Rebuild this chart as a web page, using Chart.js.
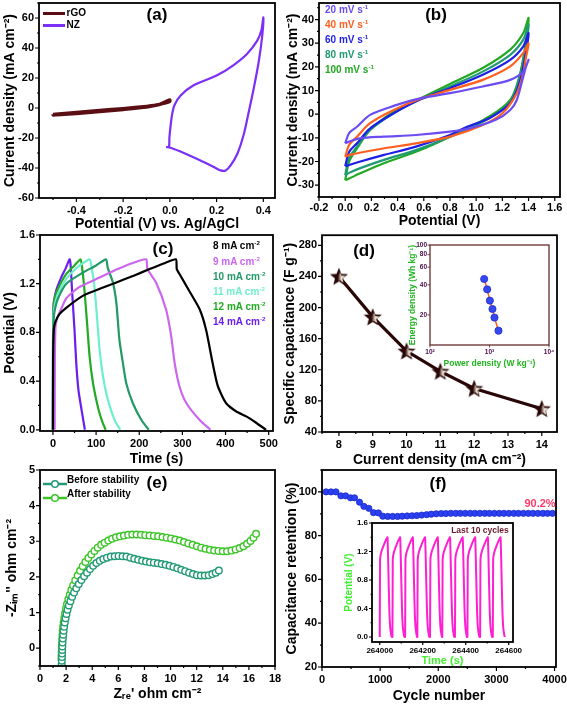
<!DOCTYPE html>
<html>
<head>
<meta charset="utf-8">
<script src="https://cdn.jsdelivr.net/npm/chart.js@4"></script>
<style>
  body { margin: 0; width: 567px; height: 709px; position: relative; overflow: hidden; background: #fff;
         font-family: 'Liberation Sans', Arial, sans-serif; }
  canvas { position: absolute; }
  .lbl { position: absolute; font-weight: bold; white-space: nowrap; line-height: 1; }
  sup { font-size: 62%; vertical-align: 0.6em; line-height: 0; }
</style>
</head>
<body>
<script>
// ---------- (a) CV of rGO and NZ ----------
const aRgoX = [-0.5, -0.4, -0.3, -0.2, -0.1, -0.05, 0, 0, -0.05, -0.1, -0.2, -0.3, -0.4, -0.5, -0.5];
const aRgoY = [-4.2, -2.8, -1.5, -0.3, 1.2, 2.3, 5.5, 4.2, 2.0, 0.5, -1.1, -2.5, -3.8, -4.8, -4.2];
const aNzX = [-0.016, -0.004, -0.002, 0.003, 0.01, 0.02, 0.046, 0.1, 0.2, 0.27, 0.33, 0.374, 0.392, 0.4,
              0.396, 0.381, 0.36, 0.339, 0.317, 0.289, 0.26, 0.239, 0.217, 0.189, 0.131, 0.06, 0.003, -0.016];
const aNzY = [-26, -26, -20, -12, -4, 2, 8.3, 15, 21.6, 28.3, 36, 44.9, 52, 60.4,
              49, 31.5, 13.8, -1.7, -17.2, -30.5, -38.3, -41.6, -41.6, -39.4, -35, -30, -26.5, -26];
const aXTicks = [-0.4, -0.2, 0, 0.2, 0.4];
const aYTicks = [-60, -40, -20, 0, 20, 40, 60];

// ---------- (b) CV at different scan rates ----------
const bRates = ['20', '40', '60', '80', '100'];
const bX20 = [0, 0.03, 0.09, 0.19, 0.37, 0.58, 0.8, 1.05, 1.26, 1.36, 1.4, 1.38, 1.36, 1.31, 1.26, 1.15, 0.95, 0.8, 0.54, 0.29, 0.11, 0.03, 0];
const bY20 = [-12.3, -8, -5.3, -0.3, 3.5, 6.8, 8.9, 11.7, 14.5, 18, 23, 20, 16, 6, 1.8, -2.4, -6, -7.4, -8.8, -9.5, -10.2, -11.6, -12.3];
const bX40 = [0, 0.03, 0.09, 0.19, 0.37, 0.58, 0.8, 1.05, 1.26, 1.36, 1.4, 1.38, 1.36, 1.31, 1.2, 1.05, 0.8, 0.54, 0.29, 0.11, 0.03, 0];
const bY40 = [-18, -13, -9.5, -3.8, 1.8, 6.6, 10.3, 14.5, 20.2, 25.9, 30, 24, 17.4, 8.9, 0.4, -4.6, -9.5, -12.3, -14.5, -16.3, -17.3, -18];
const bX60 = [0, 0.03, 0.09, 0.19, 0.37, 0.58, 0.8, 1.05, 1.26, 1.36, 1.4, 1.37, 1.33, 1.26, 1.1, 0.93, 0.8, 0.54, 0.29, 0.11, 0.03, 0];
const bY60 = [-22, -16, -12.3, -6, 0.4, 6.4, 11, 16.7, 23, 28.7, 34.3, 23, 13, 4.6, -1.7, -5.3, -8.8, -13.7, -17.3, -20.1, -21.5, -22];
const bX80 = [0, 0.03, 0.09, 0.19, 0.37, 0.58, 0.8, 1.05, 1.26, 1.36, 1.4, 1.37, 1.33, 1.26, 1.1, 0.8, 0.54, 0.29, 0.11, 0.03, 0];
const bY80 = [-25.8, -18.5, -13.7, -6.7, 0.4, 6.5, 11.7, 18, 25.1, 31.5, 37.9, 25.9, 15.3, 5.3, -1.7, -9.5, -15.2, -19.4, -22.9, -24.8, -25.8];
const bX100 = [0, 0.03, 0.09, 0.19, 0.37, 0.58, 0.8, 1.05, 1.26, 1.36, 1.4, 1.37, 1.33, 1.26, 1.1, 0.8, 0.54, 0.29, 0.11, 0.03, 0];
const bY100 = [-27.9, -20, -14.5, -6.7, 1.1, 6.8, 12.8, 19.5, 27.3, 34.3, 40.7, 27.3, 16, 6, -1, -9.5, -15.9, -20.8, -25.1, -27.2, -27.9];
const bXTicks = [-0.2, 0, 0.2, 0.4, 0.6, 0.8, 1.0, 1.2, 1.4, 1.6];
const bYTicks = [-30, -20, -10, 0, 10, 20, 30, 40];

// ---------- (c) GCD at different current densities ----------
const cCurrents = ['8', '9', '10', '11', '12', '14'];
const cT8 = [0, 0.5, 2, 5, 15, 30, 69, 110, 147, 190, 224, 260, 285, 287, 295, 316, 340, 355, 370, 382, 401, 425, 448, 470, 494];
const cV8 = [0, 0.6, 0.82, 0.88, 0.95, 1.0, 1.1, 1.16, 1.21, 1.27, 1.32, 1.37, 1.4, 1.32, 1.27, 1.14, 0.99, 0.82, 0.55, 0.36, 0.22, 0.15, 0.11, 0.06, 0];
const cT9 = [4, 4.5, 6, 10, 20, 31, 60, 108, 150, 185, 216, 219, 239, 262, 274, 282, 293, 309, 340, 365];
const cV9 = [0, 0.6, 0.85, 0.92, 1.0, 1.08, 1.17, 1.25, 1.32, 1.37, 1.4, 1.32, 1.21, 0.99, 0.77, 0.55, 0.36, 0.22, 0.08, 0];
const cT10 = [0, 0.3, 1.5, 4, 12, 31, 69, 100, 123, 127, 139, 147, 154, 162, 170, 185, 205, 222];
const cV10 = [0, 0.7, 0.9, 0.98, 1.08, 1.2, 1.29, 1.35, 1.4, 1.33, 1.21, 1.04, 0.74, 0.55, 0.38, 0.22, 0.08, 0];
const cT11 = [0, 0.3, 1.5, 4, 12, 31, 55, 85, 89, 96, 102, 108, 116, 127, 143, 156];
const cV11 = [0, 0.75, 0.95, 1.02, 1.12, 1.24, 1.33, 1.4, 1.35, 1.18, 0.93, 0.66, 0.44, 0.25, 0.08, 0];
const cT12 = [0, 0.3, 1.5, 4, 12, 31, 50, 64, 67, 73, 79, 85, 93, 104, 113, 122];
const cV12 = [0, 0.8, 1.0, 1.08, 1.16, 1.28, 1.35, 1.4, 1.35, 1.15, 0.88, 0.6, 0.38, 0.19, 0.08, 0];
const cT14 = [0, 0.3, 1, 2, 8, 19, 30, 38.6, 41, 45, 50, 54, 59, 66, 74];
const cV14 = [0, 0.8, 0.98, 1.05, 1.15, 1.25, 1.33, 1.4, 1.35, 1.1, 0.82, 0.55, 0.33, 0.17, 0];
const cXTicks = [0, 100, 200, 300, 400, 500];
const cYTicks = [0, 0.4, 0.8, 1.2, 1.6];

// ---------- (d) specific capacitance + Ragone inset ----------
const dCurrent = [8, 9, 10, 11, 12, 14];
const dCap = [240, 188, 144, 118, 96, 70];
const dXTicks = [8, 9, 10, 11, 12, 13, 14];
const dYTicks = [40, 80, 120, 160, 200, 240, 280];
const dPower = [814, 914, 1014, 1122, 1213, 1416];
const dEnergy = [45.7, 36, 27.8, 22.9, 18.8, 13.9];
const dInXTicks = [100, 1000, 10000];
const dInYTicks = [20, 40, 60, 80, 100];

// ---------- (e) Nyquist plots ----------
const eBeforeX = [1.66, 1.67, 1.68, 1.69, 1.70, 1.71, 1.73, 1.75, 1.78, 1.81, 1.85, 1.90, 1.96, 2.03, 2.11, 2.21, 2.33, 2.46,
  2.61, 2.78, 2.97, 3.17, 3.38, 3.60, 3.83, 4.07, 4.32, 4.58, 4.85, 5.13, 5.42, 5.72, 6.02, 6.32, 6.62, 6.92, 7.22, 7.52,
  7.82, 8.12, 8.42, 8.72, 9.02, 9.32, 9.62, 9.92, 10.22, 10.52, 10.82, 11.12, 11.42, 11.72, 12.02, 12.32, 12.62, 12.92,
  13.20, 13.46, 13.70];
const eBeforeY = [-0.45, -0.35, -0.25, -0.15, -0.05, 0.05, 0.16, 0.27, 0.38, 0.49, 0.60, 0.72, 0.84, 0.96, 1.08, 1.20, 1.32, 1.44,
  1.56, 1.68, 1.80, 1.91, 2.02, 2.12, 2.22, 2.31, 2.39, 2.45, 2.50, 2.54, 2.57, 2.58, 2.59, 2.58, 2.57, 2.54, 2.51, 2.48,
  2.45, 2.43, 2.41, 2.40, 2.38, 2.36, 2.34, 2.31, 2.28, 2.24, 2.20, 2.16, 2.12, 2.08, 2.05, 2.04, 2.04, 2.05,
  2.08, 2.12, 2.18];
const eAfterX = [1.64, 1.65, 1.66, 1.67, 1.68, 1.70, 1.72, 1.74, 1.77, 1.81, 1.86, 1.92, 1.99, 2.07, 2.17, 2.28, 2.40, 2.54,
  2.70, 2.88, 3.07, 3.27, 3.48, 3.70, 3.93, 4.17, 4.42, 4.68, 4.95, 5.23, 5.52, 5.82, 6.12, 6.43, 6.75, 7.07, 7.40, 7.73,
  8.06, 8.39, 8.72, 9.05, 9.38, 9.71, 10.04, 10.37, 10.70, 11.03, 11.36, 11.69, 12.02, 12.35, 12.68, 13.01, 13.34, 13.67,
  14.00, 14.33, 14.66, 14.98, 15.29, 15.58, 15.86, 16.12, 16.35, 16.55];
const eAfterY = [-0.3, -0.2, -0.1, 0.02, 0.14, 0.26, 0.37, 0.48, 0.60, 0.72, 0.85, 0.98, 1.11, 1.24, 1.37, 1.50, 1.63, 1.76,
  1.90, 2.04, 2.17, 2.30, 2.42, 2.53, 2.63, 2.73, 2.82, 2.90, 2.96, 3.02, 3.07, 3.11, 3.14, 3.16, 3.18, 3.19, 3.19, 3.18,
  3.17, 3.16, 3.15, 3.14, 3.12, 3.10, 3.08, 3.05, 3.02, 2.98, 2.94, 2.90, 2.86, 2.82, 2.79, 2.76, 2.74, 2.73,
  2.72, 2.72, 2.74, 2.77, 2.81, 2.86, 2.93, 3.01, 3.10, 3.21];
const eXTicks = [0, 2, 4, 6, 8, 10, 12, 14, 16, 18];
const eYTicks = [0, 1, 2, 3, 4, 5];

// ---------- (f) cycling stability + last 10 cycles inset ----------
const fCycle = [70, 155, 240, 325, 405, 490, 560, 645, 720, 805, 885, 970, 1045, 1130, 1215, 1300, 1380, 1465, 1550, 1630,
  1715, 1800, 1880, 1965, 2050, 2130, 2215, 2300, 2380, 2465, 2550, 2630, 2715, 2800, 2880, 2965, 3050, 3130, 3215, 3300,
  3380, 3465, 3550, 3630, 3715, 3800, 3880, 3965];
const fRet = [100, 100, 100, 98.2, 98.2, 97.3, 97.3, 95.3, 93.4, 92.5, 90.5, 90.4, 88.9, 88.8, 88.8, 88.8, 88.9, 89.0, 89.1, 89.2,
  89.4, 89.6, 89.8, 90.0, 90.1, 90.1, 90.2, 90.2, 90.2, 90.2, 90.2, 90.2, 90.2, 90.2, 90.2, 90.2, 90.2, 90.2, 90.2, 90.2,
  90.2, 90.2, 90.2, 90.2, 90.2, 90.2, 90.2, 90.2];
const fXTicks = [0, 1000, 2000, 3000, 4000];
const fYTicks = [20, 40, 60, 80, 100];
const fStart = [264000, 264059, 264118, 264175, 264234, 264291, 264350, 264408, 264467, 264526];
const fCycT = [0, 1.5, 3, 8, 20, 30, 36, 37, 39, 42, 45, 49, 54, 56];
const fCycV = [0, 1.05, 1.13, 1.2, 1.3, 1.37, 1.4, 1.33, 1.1, 0.7, 0.35, 0.12, 0.02, 0];
const fInXTicks = [264000, 264200, 264400, 264600];
const fInYTicks = [0, 0.4, 0.8, 1.2, 1.6];

// ---------- helpers ----------
Chart.defaults.font.family = "'Liberation Sans', Arial, sans-serif";
Chart.defaults.font.weight = 'bold';
Chart.defaults.color = '#000';
Chart.defaults.animation = false;
Chart.defaults.plugins.legend.display = false;
Chart.defaults.plugins.tooltip.enabled = false;

const pts = (xs, ys) => xs.map((x, i) => ({ x, y: ys[i] }));
const fix1 = v => v.toFixed(1);

const framePlugin = {
  id: 'frame',
  beforeDraw(chart, args, o) {
    if (!o.fill) return;
    const a = chart.chartArea, ctx = chart.ctx;
    ctx.save(); ctx.fillStyle = o.fill; ctx.fillRect(a.left, a.top, a.width, a.height); ctx.restore();
  },
  afterDraw(chart, args, o) {
    const { ctx, chartArea: a, scales } = chart;
    ctx.save();
    ctx.strokeStyle = o.color || '#000';
    ctx.lineWidth = o.tickWidth || 1.2;
    ctx.beginPath();
    const mark = (ax, v, len) => {
      const s = scales[ax];
      if (v < s.min - 1e-9 || v > s.max + 1e-9) return;
      const p = s.getPixelForValue(v);
      if (ax === 'x') { ctx.moveTo(p, a.bottom); ctx.lineTo(p, a.bottom + len); }
      else { ctx.moveTo(a.left, p); ctx.lineTo(a.left - len, p); }
    };
    ['x', 'y'].forEach(ax => {
      scales[ax].ticks.forEach(t => mark(ax, t.value, o.major ?? 4));
      const step = o['minor' + ax.toUpperCase()];
      if (step) {
        const s = scales[ax];
        for (let k = Math.ceil(s.min / step); k * step <= s.max + 1e-9; k++) mark(ax, k * step, o.minor ?? 2);
      }
    });
    ctx.stroke();
    ctx.lineWidth = o.width || 1.8;
    ctx.strokeRect(a.left, a.top, a.width, a.height);
    ctx.restore();
  }
};

function axis(pos, o, size) {
  return {
    type: o.type || 'linear', position: pos, min: o.min, max: o.max,
    grid: { display: false, drawTicks: false }, border: { display: false },
    afterBuildTicks: s => { s.ticks = o.ticks.map(v => ({ value: v })); },
    afterFit: s => {
      if (pos === 'left') s.width = size; else s.height = size;
      s.paddingTop = s.paddingBottom = s.paddingLeft = s.paddingRight = 0;
    },
    ticks: { padding: o.pad ?? 5, autoSkip: false, maxRotation: 0, color: o.tcol || '#000',
             font: { size: o.fs || 11, weight: 'bold' }, callback: o.fmt || (v => String(v)) },
    title: { display: true, text: o.title, color: o.tc || '#000', font: { size: o.tfs || 14, weight: 'bold' },
             padding: { top: 2, bottom: 2 } }
  };
}

function makeChart(spec) {
  const { plot, x, y } = spec;
  const ylh = (y.tfs || 14) * 1.2, xlh = (x.tfs || 14) * 1.2;
  const cx = Math.round(y.tx - ylh / 2 - 2), cy = plot.t - 12;
  const cr = plot.r + 14, cb = Math.round(x.ty + xlh / 2 + 2);
  const cv = document.createElement('canvas');
  cv.width = cr - cx; cv.height = cb - cy;
  cv.style.left = cx + 'px'; cv.style.top = cy + 'px';
  document.body.appendChild(cv);
  new Chart(cv, {
    type: 'scatter',
    data: { datasets: spec.datasets },
    options: {
      responsive: false, devicePixelRatio: 1,
      layout: { padding: { left: 0, top: plot.t - cy, right: cr - plot.r, bottom: 0 } },
      scales: { x: axis('bottom', x, cb - plot.b), y: axis('left', y, plot.l - cx) },
      plugins: { frame: spec.frame || {} }
    },
    plugins: [framePlugin]
  });
}

function line(xs, ys, color, w, tension) {
  return { data: pts(xs, ys), showLine: true, borderColor: color, borderWidth: w, pointRadius: 0,
           tension: tension ?? 0.3, fill: false };
}

function text(html, x, y, size, color, center) {
  const d = document.createElement('div');
  d.className = 'lbl';
  d.innerHTML = html;
  d.style.left = x + 'px'; d.style.top = y + 'px';
  d.style.fontSize = size + 'px'; d.style.color = color || '#000';
  d.style.transform = center ? 'translate(-50%,-50%)' : 'translate(0,-50%)';
  document.body.appendChild(d);
  return d;
}

function starImage() {
  const c = document.createElement('canvas'); c.width = c.height = 20;
  const g = c.getContext('2d');
  const star = (r1, r2, cx, cy) => {
    g.beginPath();
    for (let i = 0; i < 10; i++) {
      const r = i % 2 ? r2 : r1, a = -Math.PI / 2 + i * Math.PI / 5;
      g.lineTo(cx + r * Math.cos(a), cy + r * Math.sin(a));
    }
    g.closePath();
  };
  star(9.5, 4.2, 10, 10.8); g.fillStyle = '#2a0707'; g.fill();
  star(6.0, 2.5, 11, 11.3);
  const grad = g.createLinearGradient(4, 0, 16, 0);
  grad.addColorStop(0.4, '#2a0707'); grad.addColorStop(0.7, '#efe3cf'); grad.addColorStop(1, '#fffaf0');
  g.fillStyle = grad; g.fill();
  return c;
}

// ---------- panels ----------
makeChart({
  plot: { l: 39, r: 275, t: 3, b: 198 },
  x: { min: -0.56, max: 0.45, ticks: aXTicks, fmt: fix1, title: 'Potential (V) vs. Ag/AgCl', ty: 225, pad: 6 },
  y: { min: -60, max: 70, ticks: aYTicks, title: 'Current density (mA cm\u207B\u00B2)', tx: 10 },
  frame: { minorX: 0.1, minorY: 10 },
  datasets: [line(aRgoX, aRgoY, '#5a0d12', 3, 0.2), line(aNzX, aNzY, '#7b2ff7', 2.2, 0.25)]
});

const bColors = ['#6a4cf2', '#ff5f1f', '#1e1ee6', '#1f9a72', '#22a822'];
makeChart({
  plot: { l: 319, r: 560, t: 3, b: 197 },
  x: { min: -0.2, max: 1.64, ticks: bXTicks, fmt: fix1, title: 'Potential (V)', ty: 222, pad: 4 },
  y: { min: -35, max: 47, ticks: bYTicks, title: 'Current density (mA cm\u207B\u00B2)', tx: 293 },
  frame: { minorX: 0.1, minorY: 5 },
  datasets: [
    line(bX20, bY20, bColors[0], 2.2), line(bX40, bY40, bColors[1], 2.2), line(bX60, bY60, bColors[2], 2.2),
    line(bX80, bY80, bColors[3], 2.2), line(bX100, bY100, bColors[4], 2.2)
  ]
});

const cColors = ['#000000', '#cc66ee', '#229966', '#6eeecc', '#22aa22', '#6a1ff0'];
makeChart({
  plot: { l: 40, r: 273, t: 235, b: 431 },
  x: { min: -30, max: 510, ticks: cXTicks, title: 'Time (s)', ty: 460, pad: 6 },
  y: { min: -0.01, max: 1.6, ticks: cYTicks, fmt: fix1, title: 'Potential (V)', tx: 10 },
  frame: { minorX: 50, minorY: 0.2 },
  datasets: [
    line(cT8, cV8, cColors[0], 2.2, 0.2), line(cT9, cV9, cColors[1], 2.2, 0.2), line(cT10, cV10, cColors[2], 2.2, 0.2),
    line(cT11, cV11, cColors[3], 2.2, 0.2), line(cT12, cV12, cColors[4], 2.2, 0.2), line(cT14, cV14, cColors[5], 2.2, 0.2)
  ]
});

const star = starImage();
makeChart({
  plot: { l: 322, r: 557, t: 235, b: 432 },
  x: { min: 7.5, max: 14.45, ticks: dXTicks, title: 'Current density (mA cm\u207B\u00B2)', ty: 461, pad: 6 },
  y: { min: 40, max: 293, ticks: dYTicks, title: 'Specific capacitance (F g\u207B\u00B9)', tx: 290.5 },
  frame: { minorX: 0.5, minorY: 20 },
  datasets: [{ data: pts(dCurrent, dCap), showLine: true, borderColor: '#2a0707', borderWidth: 3.2, tension: 0,
               pointStyle: star, pointRadius: 9 }]
});

makeChart({
  plot: { l: 430, r: 549, t: 245, b: 345 },
  x: { type: 'logarithmic', min: 100, max: 10000, ticks: dInXTicks, fs: 6.5, tcol: '#4a0a4a', pad: 3,
       fmt: v => ({ 100: '10\u00B2', 1000: '10\u00B3', 10000: '10\u2074' })[v],
       title: 'Power density (W kg\u207B\u00B9)', tc: '#22b422', tfs: 8.5, ty: 364 },
  y: { type: 'logarithmic', min: 10, max: 100, ticks: dInYTicks, fs: 6.5, tcol: '#4a0a4a', pad: 3,
       title: 'Energy density (Wh kg\u207B\u00B9)', tc: '#22b422', tfs: 8.5, tx: 413 },
  frame: { color: '#5b1a1a', width: 1.2, tickWidth: 0.8, major: 2.5, fill: '#fff' },
  datasets: [{ data: pts(dPower, dEnergy), showLine: true, borderColor: '#ff5a1f', borderWidth: 1.5, tension: 0,
               pointRadius: 3.6, pointBackgroundColor: '#3447f0', pointBorderColor: '#2030c8', pointBorderWidth: 0.8 }]
});

const eColors = ['#229a74', '#3cc428'];
makeChart({
  plot: { l: 40, r: 275, t: 470, b: 666 },
  x: { min: 0, max: 18, ticks: eXTicks, title: "Z\u1D63\u2091' ohm cm\u207B\u00B2", ty: 695, pad: 6 },
  y: { min: -0.5, max: 5, ticks: eYTicks, title: "-Z\u1D62\u2098'' ohm cm\u207B\u00B2", tx: 12.5 },
  frame: { minorX: 1, minorY: 0.5 },
  datasets: [
    { data: pts(eBeforeX, eBeforeY), pointRadius: 3.3, pointBorderWidth: 1.4, pointBorderColor: eColors[0],
      pointBackgroundColor: '#fff' },
    { data: pts(eAfterX, eAfterY), pointRadius: 3.3, pointBorderWidth: 1.4, pointBorderColor: eColors[1],
      pointBackgroundColor: '#fff' }
  ]
});

makeChart({
  plot: { l: 322, r: 556, t: 470, b: 667 },
  x: { min: 0, max: 4025, ticks: fXTicks, title: 'Cycle number', ty: 697, pad: 6 },
  y: { min: 20, max: 110, ticks: fYTicks, title: 'Capacitance retention (%)', tx: 292.5 },
  frame: { minorX: 500, minorY: 10 },
  datasets: [{ data: pts(fCycle, fRet), pointRadius: 3.1, pointBackgroundColor: '#2b40f2',
               pointBorderColor: '#1a2ac8', pointBorderWidth: 0.8 }]
});

const fInT = [], fInV = [];
fStart.forEach(t0 => fCycT.forEach((dt, i) => { fInT.push(t0 + dt); fInV.push(fCycV[i]); }));
makeChart({
  plot: { l: 372, r: 513, t: 523, b: 642 },
  x: { min: 263964, max: 264620, ticks: fInXTicks, fs: 8, pad: 4, title: 'Time (s)', tc: '#44ee33', tfs: 11, ty: 661 },
  y: { min: -0.07, max: 1.6, ticks: fInYTicks, fs: 8, pad: 4, fmt: fix1, title: 'Potential (V)', tc: '#44ee33', tfs: 10, tx: 349 },
  frame: { minorX: 100, minorY: 0.2, major: 3, minor: 1.5, fill: '#fff' },
  datasets: [line(fInT, fInV, '#ff1fd2', 2, 0.15)]
});

// ---------- labels and legends ----------
text('(a)', 157, 14, 17, '#000', true);
text('(b)', 436, 14, 17, '#000', true);
text('(c)', 163, 248, 17, '#000', true);
text('(d)', 364, 250, 17, '#000', true);
text('(e)', 157, 482, 17, '#000', true);
text('(f)', 438, 483, 17, '#000', true);

[['rGO', '#5a0d12', 13], ['NZ', '#7b2ff7', 25]].forEach(([n, c, yy]) => {
  const bar = document.createElement('div');
  bar.style.cssText = `position:absolute;left:43px;top:${yy - 1.5}px;width:22px;height:3px;background:${c}`;
  document.body.appendChild(bar);
  text(n, 66.5, yy, 10, '#000');
});

[10, 24.5, 40, 54.5, 69.5].forEach((yy, i) => text(`${bRates[i]} mV s<sup>-1</sup>`, 325, yy, 10, bColors[i]));
[245.7, 261.5, 276.7, 291.7, 306.7, 321.5].forEach((yy, i) => text(`${cCurrents[i]} mA cm<sup>-2</sup>`, 213, yy, 10, cColors[i]));

[['Before stability', eColors[0], 480], ['After stability', eColors[1], 493.5]].forEach(([n, c, yy]) => {
  const s = document.createElement('div');
  s.style.cssText = `position:absolute;left:43px;top:${yy - 5}px;width:24px;height:10px`;
  s.innerHTML = `<svg width="24" height="10"><line x1="0" y1="5" x2="24" y2="5" stroke="${c}" stroke-width="2.5"/>` +
    `<circle cx="12" cy="5" r="3.3" fill="#fff" stroke="${c}" stroke-width="1.5"/></svg>`;
  document.body.appendChild(s);
  text(n, 67, yy, 10, '#000');
});

text('90.2%', 540, 503, 11, '#ff3a6a', true);
text('Last 10 cycles', 480, 530, 8.5, '#6b1a2e', true);
</script>
</body>
</html>
